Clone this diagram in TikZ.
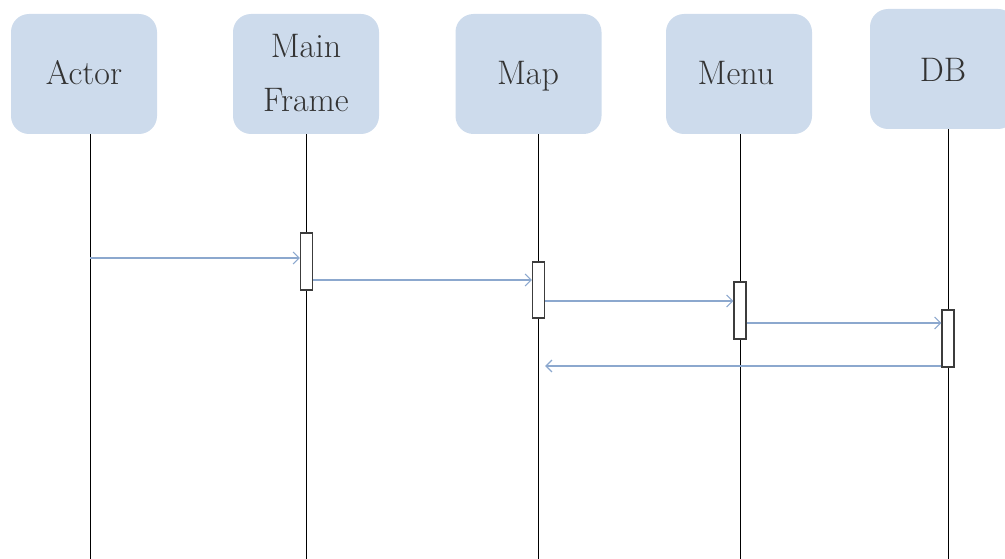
\documentclass[tikz,border=0pt]{standalone}
\usetikzlibrary{arrows.meta}
\definecolor{boxfill}{RGB}{205,219,236}
\definecolor{msg}{RGB}{140,168,206}
\definecolor{actdraw}{RGB}{60,60,60}
\begin{document}
\begin{tikzpicture}[x=1pt,y=-1pt,
  objbox/.style={fill=boxfill,draw=none,rounded corners=18pt,minimum width=146pt,minimum height=120pt,inner sep=0pt},
  lbl/.style={align=center,inner sep=0pt,font=\fontsize{34}{54}\selectfont,text=black!80},
  lifeline/.style={draw=black,line width=0.9pt},
  actbox/.style={draw=actdraw,fill=white,line width=1.1pt,minimum width=12pt,inner sep=0pt},
  msgarrow/.style={draw=msg,line width=1.4pt,-{Straight Barb[length=6pt,width=12pt,line width=1.2pt]}}
]
\useasboundingbox (0,0) rectangle (1005,559);
\begin{scope}
\clip (0,0) rectangle (1005,559);
% object boxes
\node[objbox] (actor) at (84,74) {};
\node[objbox] (mf) at (306,74) {};
\node[objbox] (map) at (528.5,74) {};
\node[objbox] (menu) at (739,74) {};
\node[objbox] (db) at (943,69) {};
\end{scope}
\node[lbl,anchor=base] (tactor) at (84,85) {Actor};
\node[lbl] (tmf) at (306,73) {Main\\Frame};
\node[lbl,anchor=base] (tmap) at (528,85) {Map};
\node[lbl,anchor=base] (tmenu) at (736,85) {Menu};
\node[lbl,anchor=base] (tdb) at (943,82) {DB};
% lifeline bottoms
\coordinate (la) at (90,559);
\coordinate (lmf) at (306.5,559);
\coordinate (lmap) at (538.5,559);
\coordinate (lmenu) at (740,559);
\coordinate (ldb) at (948,559);
\draw[lifeline] (actor.south -| la) -- (la);
\draw[lifeline] (mf.south -| lmf) -- (lmf);
\draw[lifeline] (map.south -| lmap) -- (lmap);
\draw[lifeline] (menu.south -| lmenu) -- (lmenu);
\draw[lifeline] (db.south -| ldb) -- (ldb);
% activation boxes
\node[actbox,minimum height=57pt] (amf) at (306.5,261.5) {};
\node[actbox,minimum height=56pt] (amap) at (538.5,290) {};
\node[actbox,minimum height=57pt] (amenu) at (740,310.5) {};
\node[actbox,minimum height=57pt] (adb) at (948,338.5) {};
% messages
\coordinate (m1) at (90,258);
\draw[msgarrow] (m1) -- (amf.west |- m1);
\coordinate (m2) at (0,280);
\draw[msgarrow] (amf.east |- m2) -- (amap.west |- m2);
\coordinate (m3) at (0,301);
\draw[msgarrow] (amap.east |- m3) -- (amenu.west |- m3);
\coordinate (m4) at (0,323);
\draw[msgarrow] (amenu.east |- m4) -- (adb.west |- m4);
\coordinate (m5) at (0,366);
\draw[msgarrow] (adb.west |- m5) -- (amap.east |- m5);
\end{tikzpicture}
\end{document}
